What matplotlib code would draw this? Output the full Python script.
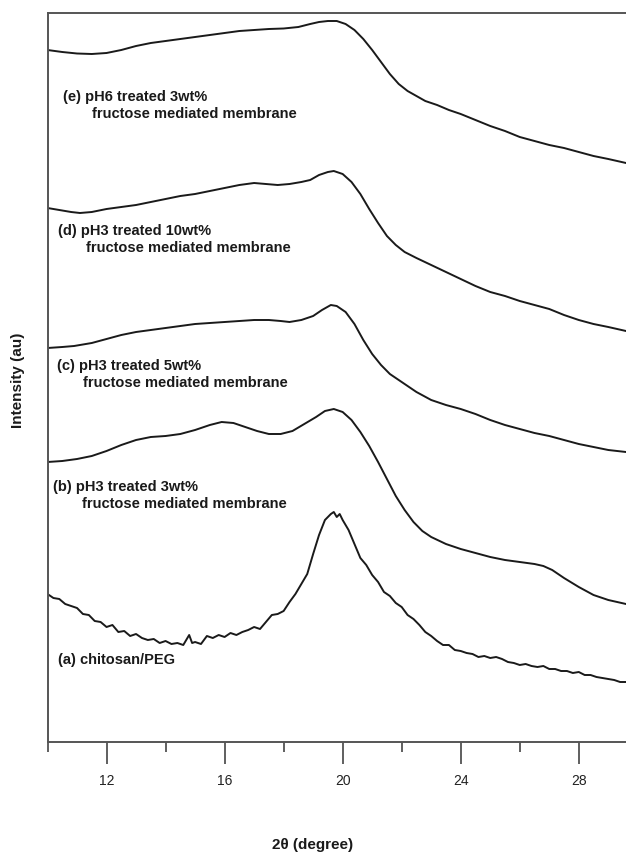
import matplotlib
matplotlib.use("Agg")
import matplotlib.pyplot as plt

plt.rcParams['font.family'] = ['Liberation Sans', 'DejaVu Sans']

# ---- data (2theta in degrees, intensity in arbitrary units) ----
x_e = [10.0, 10.5, 11.0, 11.5, 12.0, 12.5, 13.0, 13.5, 14.0, 14.5, 15.0, 15.5, 16.0, 16.5, 17.0, 17.5,
       18.0, 18.5, 18.9, 19.2, 19.5, 19.8, 20.1, 20.4, 20.7, 21.0, 21.3, 21.6, 21.9, 22.2, 22.5, 22.8,
       23.2, 23.6, 24.0, 24.5, 25.0, 25.5, 26.0, 26.5, 27.0, 27.5, 28.0, 28.5, 29.0, 29.6]
y_e = [692, 690, 688.5, 688, 689, 692, 696, 699, 701, 703, 705, 707, 709, 711, 712, 713,
       713.5, 715, 718, 720, 721, 721, 718, 712, 703, 692, 680, 668, 658, 651, 646, 641,
       637, 632, 628, 622, 616, 611, 605, 601, 597, 594, 590, 586, 583, 579]

x_d = [10.0, 10.4, 10.8, 11.1, 11.5, 12.0, 12.5, 13.0, 13.5, 14.0, 14.5, 15.0, 15.5, 16.0, 16.5, 17.0,
       17.4, 17.8, 18.2, 18.6, 18.9, 19.2, 19.5, 19.7, 20.0, 20.3, 20.6, 20.9, 21.2, 21.5, 21.8, 22.1,
       22.5, 23.0, 23.5, 24.0, 24.5, 25.0, 25.5, 26.0, 26.5, 27.0, 27.5, 28.0, 28.5, 29.0, 29.6]
y_d = [534, 532, 530, 529, 530, 533, 535, 537, 540, 543, 546, 548, 551, 554, 557, 559,
       558, 557, 558, 560, 562, 567, 570, 571, 568, 560, 548, 533, 519, 506, 497, 490,
       484, 477, 470, 463, 456, 450, 446, 441, 437, 433, 427, 422, 418, 415, 411]

x_c = [10.0, 10.5, 10.9, 11.5, 12.0, 12.5, 13.0, 13.5, 14.0, 14.5, 15.0, 15.5, 16.0, 16.5, 17.0, 17.5,
       17.9, 18.2, 18.6, 19.0, 19.3, 19.6, 19.8, 20.1, 20.4, 20.7, 21.0, 21.3, 21.6, 22.0, 22.5, 23.0,
       23.5, 24.0, 24.5, 25.0, 25.5, 26.0, 26.5, 27.0, 27.5, 28.0, 28.5, 29.0, 29.6]
y_c = [394, 395, 396, 399, 403, 407, 410, 412, 414, 416, 418, 419, 420, 421, 422, 422,
       421, 420, 422, 426, 432, 437, 436, 430, 418, 402, 388, 377, 368, 360, 350, 342,
       337, 333, 328, 322, 317, 313, 309, 306, 302, 298, 295, 292, 290]

x_b = [10.0, 10.5, 11.0, 11.5, 12.0, 12.5, 13.0, 13.5, 14.0, 14.5, 15.0, 15.5, 15.9, 16.3, 16.7, 17.1,
       17.5, 17.9, 18.3, 18.7, 19.1, 19.4, 19.7, 20.0, 20.3, 20.6, 20.9, 21.2, 21.5, 21.8, 22.1, 22.4,
       22.7, 23.0, 23.5, 24.0, 24.5, 25.0, 25.5, 26.0, 26.5, 26.8, 27.1, 27.5, 28.0, 28.5, 29.0, 29.6]
y_b = [280, 281, 283, 286, 291, 297, 302, 305, 306, 308, 312, 317, 320, 319, 315, 311,
       308, 308, 311, 318, 325, 331, 333, 330, 322, 310, 296, 280, 263, 246, 232, 220,
       211, 205, 198, 193, 189, 185, 182, 180, 178, 176, 172, 164, 155, 147, 142, 138]

x_a = [10.0, 10.2, 10.4, 10.6, 10.8, 11.0, 11.2, 11.4, 11.6, 11.8, 12.0, 12.2, 12.4, 12.6, 12.8, 13.0,
       13.2, 13.4, 13.6, 13.8, 14.0, 14.2, 14.4, 14.6, 14.8, 14.9, 15.0, 15.2, 15.4, 15.6, 15.8, 16.0,
       16.2, 16.4, 16.6, 16.8, 17.0, 17.2, 17.4, 17.6, 17.8, 18.0, 18.2, 18.4, 18.6, 18.8, 19.0, 19.2,
       19.4, 19.6, 19.7, 19.8, 19.9, 20.0, 20.2, 20.4, 20.6, 20.8, 21.0, 21.2, 21.4, 21.6, 21.8, 22.0,
       22.2, 22.4, 22.6, 22.8, 23.0, 23.2, 23.4, 23.6, 23.8, 24.0, 24.2, 24.4, 24.6, 24.8, 25.0, 25.2,
       25.4, 25.6, 25.8, 26.0, 26.2, 26.4, 26.6, 26.8, 27.0, 27.2, 27.4, 27.6, 27.8, 28.0, 28.2, 28.4,
       28.6, 28.8, 29.0, 29.2, 29.4, 29.6]
y_a = [148, 144, 143, 138, 136, 134, 128, 127, 121, 120, 115, 117, 110, 111, 106, 108,
       104, 102, 103, 99, 101, 98, 99, 97, 107, 99, 100, 98, 106, 104, 107, 105,
       109, 107, 110, 112, 115, 113, 120, 127, 128, 131, 140, 148, 158, 168, 188, 207,
       222, 228, 230, 225, 228, 222, 212, 198, 184, 177, 167, 160, 150, 146, 139, 135,
       127, 123, 117, 110, 106, 101, 97, 97, 92, 91, 89, 88, 85, 86, 84, 85,
       83, 80, 79, 77, 78, 76, 75, 76, 73, 73, 71, 71, 69, 70, 67, 67,
       65, 64, 63, 62, 60, 60]

xticks = [12, 16, 20, 24, 28]
xminor = [10, 14, 18, 22, 26]

labels = [
    ("(e) pH6 treated 3wt%", "fructose mediated membrane"),
    ("(d) pH3 treated 10wt%", "fructose mediated membrane"),
    ("(c) pH3 treated 5wt%", "fructose mediated membrane"),
    ("(b) pH3 treated 3wt%", "fructose mediated membrane"),
    ("(a) chitosan/PEG", None),
]
# label anchor positions (data coords)
label_pos = [(10.52, 646), (10.35, 512), (10.32, 377), (10.18, 256), (10.35, 83)]
second_dx = [0.98, 0.95, 0.88, 0.98]

fig = plt.figure(figsize=(6.26, 8.53), dpi=100)
ax = fig.add_axes([47.5 / 626, 1 - 743 / 853, 1 - 47.5 / 626, (743 - 14) / 853])

for xs, ys in [(x_e, y_e), (x_d, y_d), (x_c, y_c), (x_b, y_b), (x_a, y_a)]:
    ax.plot(xs, ys, color='#1a1a1a', lw=1.4, solid_joinstyle='round')

ax.set_xlim(10, 29.6)
ax.set_ylim(0, 729)
ax.set_yticks([])
ax.set_xticks(xticks)
ax.set_xticks(xminor, minor=True)
ax.tick_params(axis='x', which='major', direction='out', length=16, width=1.2,
               color='#444444', labelsize=10, pad=6, labelcolor='#222222')
ax.tick_params(axis='x', which='minor', direction='out', length=7, width=1.2, color='#444444')
for s in ['top', 'left', 'bottom']:
    ax.spines[s].set_color('#555555')
    ax.spines[s].set_linewidth(1.4)
ax.spines['right'].set_visible(False)

for i, (l1, l2) in enumerate(labels):
    lx, ly = label_pos[i]
    ax.text(lx, ly, l1, fontsize=10.5, fontweight='bold', color='#1a1a1a', va='center', ha='left')
    if l2:
        ax.text(lx + second_dx[i], ly - 17, l2, fontsize=10.5, fontweight='bold',
                color='#1a1a1a', va='center', ha='left')

fig.text(313 / 626, 1 - 845 / 853, "2θ (degree)", fontsize=11, fontweight='bold',
         ha='center', va='center', color='#1a1a1a')
fig.text(18 / 626, 1 - 380 / 853, "Intensity (au)", fontsize=11, fontweight='bold',
         ha='center', va='center', rotation=90, color='#1a1a1a')

fig.savefig("out.png", dpi=100)
